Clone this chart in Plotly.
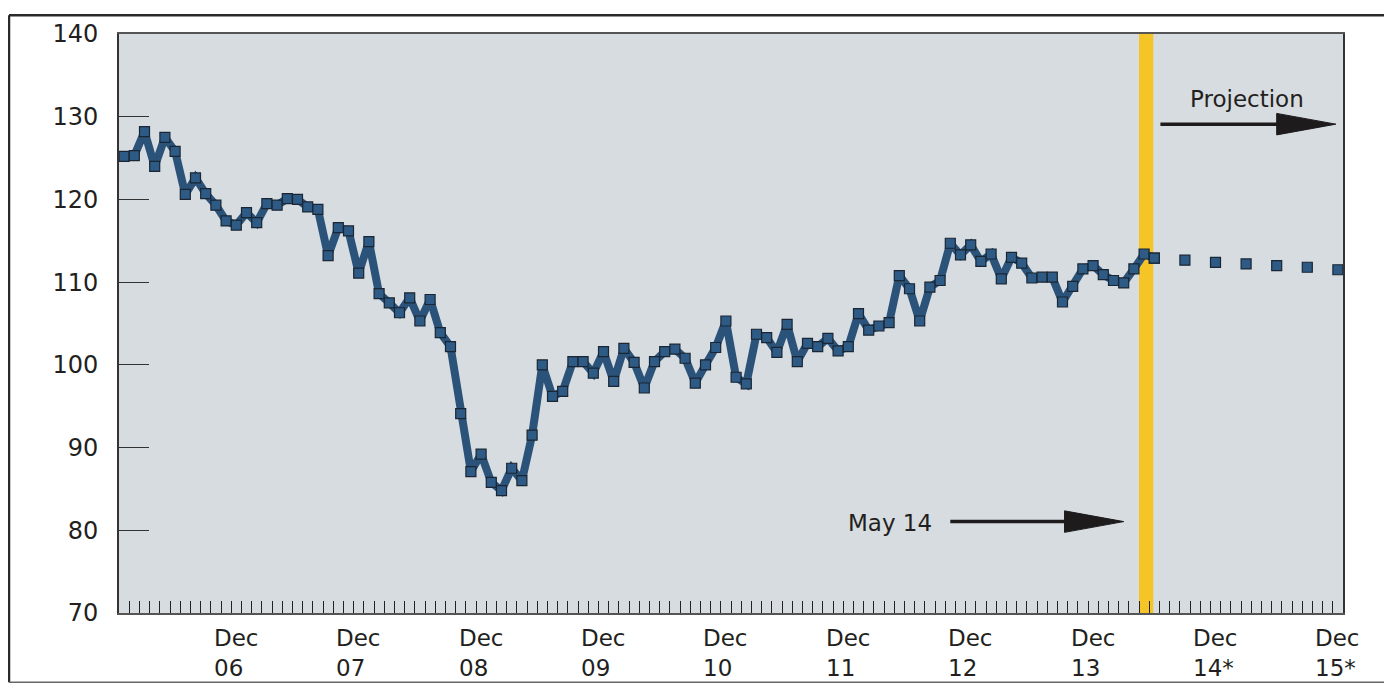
import plotly.graph_objects as go
import pandas as pd

# ---------------- data ----------------
start_month = "2006-01"
end_month = "2015-12"
index_values = [
    125.2, 125.3, 128.2, 124.0, 127.5, 125.8, 120.6, 122.6, 120.7, 119.3, 117.4, 116.9,
    118.4, 117.2, 119.5, 119.3, 120.1, 120.0, 119.1, 118.8, 113.2, 116.6, 116.2, 111.1,
    114.9, 108.6, 107.5, 106.3, 108.1, 105.3, 107.9, 103.9, 102.2, 94.1, 87.1, 89.2,
    85.8, 84.8, 87.5, 86.0, 91.5, 100.0, 96.2, 96.8, 100.4, 100.4, 99.0, 101.6,
    98.0, 102.0, 100.3, 97.2, 100.4, 101.6, 101.9, 100.8, 97.8, 100.0, 102.1, 105.3,
    98.5, 97.7, 103.7, 103.3, 101.5, 104.9, 100.4, 102.6, 102.2, 103.2, 101.7, 102.2,
    106.2, 104.2, 104.7, 105.1, 110.8, 109.2, 105.3, 109.4, 110.2, 114.7, 113.3, 114.5,
    112.5, 113.4, 110.4, 113.0, 112.3, 110.5, 110.6, 110.6, 107.6, 109.5, 111.6, 112.0,
    110.9, 110.2, 109.9, 111.6, 113.4, 112.9,
]
projection_months = ["2014-06", "2014-09", "2014-12", "2015-03", "2015-06", "2015-09", "2015-12"]
projection_values = [112.9, 112.65, 112.4, 112.2, 112.0, 111.8, 111.5]
x_label_months = ["2006-12", "2007-12", "2008-12", "2009-12", "2010-12", "2011-12",
                  "2012-12", "2013-12", "2014-12", "2015-12"]
x_tick_labels = ["Dec<br>06", "Dec<br>07", "Dec<br>08", "Dec<br>09", "Dec<br>10",
                 "Dec<br>11", "Dec<br>12", "Dec<br>13", "Dec<br>14*", "Dec<br>15*"]
y_tick_values = [70, 80, 90, 100, 110, 120, 130, 140]
marker_month = "2014-05"

# ---------------- helpers ----------------
months = pd.period_range(start_month, end_month, freq="M")
n_months = len(months)


def pos(m):
    """slot centre of a month on the numeric x axis"""
    return (pd.Period(m, freq="M") - months[0]).n + 0.5


x_actual = [i + 0.5 for i in range(len(index_values))]
x_proj = [pos(m) for m in projection_months]

LINE = "#2b5279"
MARK = "#2e5a86"
MARK_EDGE = "#1a2633"
TXT = "#231f20"
FONT = "DejaVu Sans"

fig = go.Figure()
fig.add_trace(go.Scatter(
    x=x_actual, y=index_values, mode="lines+markers",
    line=dict(color=LINE, width=8),
    marker=dict(symbol="square", size=10, color=MARK, line=dict(color=MARK_EDGE, width=1.2)),
    showlegend=False, hoverinfo="skip",
))
fig.add_trace(go.Scatter(
    x=x_proj, y=projection_values, mode="markers",
    marker=dict(symbol="square", size=10, color=MARK, line=dict(color=MARK_EDGE, width=1.2)),
    showlegend=False, hoverinfo="skip", cliponaxis=True,
))

shapes = []
# yellow May 14 band
mpos = pos(marker_month)
shapes.append(dict(type="rect", xref="x", yref="paper", x0=mpos - 0.5, x1=mpos + 0.9,
                   y0=0, y1=1, fillcolor="#f5c426", line=dict(width=0), layer="below"))


# arrows (line + triangular head) in data coordinates
def arrow(x0, x1, head_x, y, half_h):
    shapes.append(dict(type="line", xref="x", yref="y", x0=x0, x1=head_x + 0.5, y0=y, y1=y,
                       line=dict(color="#1e1b1c", width=3.5)))
    shapes.append(dict(type="path", xref="x", yref="y",
                       path=f"M {head_x},{y - half_h} L {x1},{y} L {head_x},{y + half_h} Z",
                       fillcolor="#1e1b1c", line=dict(color="#1e1b1c", width=1)))


arrow(102.1, 119.3, 113.5, 129.1, 1.3)
arrow(81.5, 98.5, 92.7, 81.05, 1.3)

# figure sits at (8, 8) in the page; plot area spans page px 119..1343 x 28..613
W, H = 1384, 677
OFF = 8
ML, MT = 119 - OFF, 28 - OFF
MR, MB = W - (1343 - OFF), H - (613 - OFF)
PW, PH = W - ML - MR, H - MT - MB


def px_x(p):
    return (p - OFF - ML) / PW


def px_y(p):
    return (H - MB - (p - OFF)) / PH


L, R, T, B = px_x(9), px_x(1389), px_y(9), px_y(683)
shapes.append(dict(type="line", xref="paper", yref="paper", x0=L, x1=R, y0=T, y1=T,
                   line=dict(color="#2a2a2a", width=2.5)))
shapes.append(dict(type="line", xref="paper", yref="paper", x0=L, x1=L, y0=B, y1=T,
                   line=dict(color="#2a2a2a", width=2.5)))
shapes.append(dict(type="line", xref="paper", yref="paper", x0=R, x1=R, y0=B, y1=T,
                   line=dict(color="#666666", width=1.5)))
shapes.append(dict(type="line", xref="paper", yref="paper", x0=L, x1=R, y0=B, y1=B,
                   line=dict(color="#666666", width=1.5)))

annotations = []
for m, lab in zip(x_label_months, x_tick_labels):
    annotations.append(dict(x=pos(m), y=0, xref="x", yref="paper", text=lab, showarrow=False,
                            xanchor="center", yanchor="top", align="left", yshift=-10,
                            font=dict(family=FONT, size=23, color=TXT)))
annotations.append(dict(x=110.6, y=132.1, xref="x", yref="y", text="Projection", showarrow=False,
                        font=dict(family=FONT, size=23, color=TXT)))
annotations.append(dict(x=75.6, y=80.9, xref="x", yref="y", text="May 14", showarrow=False,
                        font=dict(family=FONT, size=23, color=TXT)))

fig.update_layout(
    width=W, height=H, autosize=False,
    margin=dict(l=ML, r=MR, t=MT, b=MB, pad=0),
    paper_bgcolor="white", plot_bgcolor="#d7dce0",
    shapes=shapes, annotations=annotations,
    xaxis=dict(range=[0, n_months], tickvals=list(range(0, n_months + 1)), ticks="inside",
               ticklen=12, tickwidth=1.3, tickcolor="#222222", showticklabels=False,
               showgrid=False, zeroline=False, showline=True, linecolor="#555555",
               linewidth=1.5, mirror=True, fixedrange=True),
    yaxis=dict(range=[70, 140], tickvals=y_tick_values, ticks="inside", ticklen=30,
               tickwidth=1.3, tickcolor="#333333", showgrid=False, zeroline=False,
               showline=True, linecolor="#333333", linewidth=1.8, mirror=True,
               tickfont=dict(family=FONT, size=24, color=TXT), ticklabelstandoff=14,
               fixedrange=True),
)

fig.write_html("out.html")
